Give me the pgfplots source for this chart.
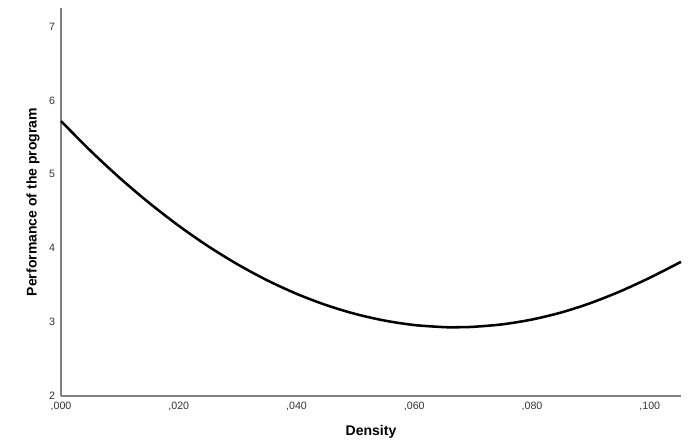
\documentclass[border=0pt]{standalone}
\usepackage{fontspec}
\setmainfont{Liberation Sans}
\usepackage{pgfplots}
\pgfplotsset{compat=1.18}

\begin{document}
\begin{tikzpicture}
\useasboundingbox (-45.75pt,-37.5pt) rectangle (479.25pt,297pt);
\begin{axis}[
    scale only axis,
    width=465pt, height=291pt,
    xmin=0, xmax=0.1053,
    ymin=2, ymax=7.25,
    axis lines*=left,
    axis line style={draw=black!50, line width=1.1pt, -},
    major tick length=0pt,
    xtick={0,0.02,0.04,0.06,0.08,0.1},
    xticklabels={{,000},{,020},{,040},{,060},{,080},{,100}},
    ytick={2,3,4,5,6,7},
    /pgf/number format/assume math mode=true,
    tick label style={font=\fontsize{8}{9.5}\selectfont, text=black!80},
    xticklabel style={yshift=-1pt},
    yticklabel style={xshift=-1pt},
    xlabel={\textbf{Density}},
    ylabel={\textbf{Performance of the program}},
    label style={font=\fontsize{10.5}{12}\selectfont},
    xlabel style={at={(axis description cs:0.5,0)}, anchor=center, yshift=-27pt},
    ylabel style={at={(axis description cs:0,0.5)}, anchor=center, yshift=21pt},
    clip=false,
]

% Kromme
\addplot[
    smooth,
    line width=1.9pt,
    black,
] coordinates {
    (0.000,5.720)
    (0.005,5.319)
    (0.010,4.949)
    (0.015,4.611)
    (0.020,4.303)
    (0.025,4.026)
    (0.030,3.781)
    (0.035,3.566)
    (0.040,3.383)
    (0.045,3.231)
    (0.050,3.110)
    (0.055,3.020)
    (0.060,2.960)
    (0.065,2.932)
    (0.067,2.930)
    (0.070,2.936)
    (0.075,2.970)
    (0.080,3.035)
    (0.085,3.131)
    (0.090,3.259)
    (0.095,3.417)
    (0.100,3.600)
    (0.1053,3.815)
};

\end{axis}
\end{tikzpicture}
\end{document}
